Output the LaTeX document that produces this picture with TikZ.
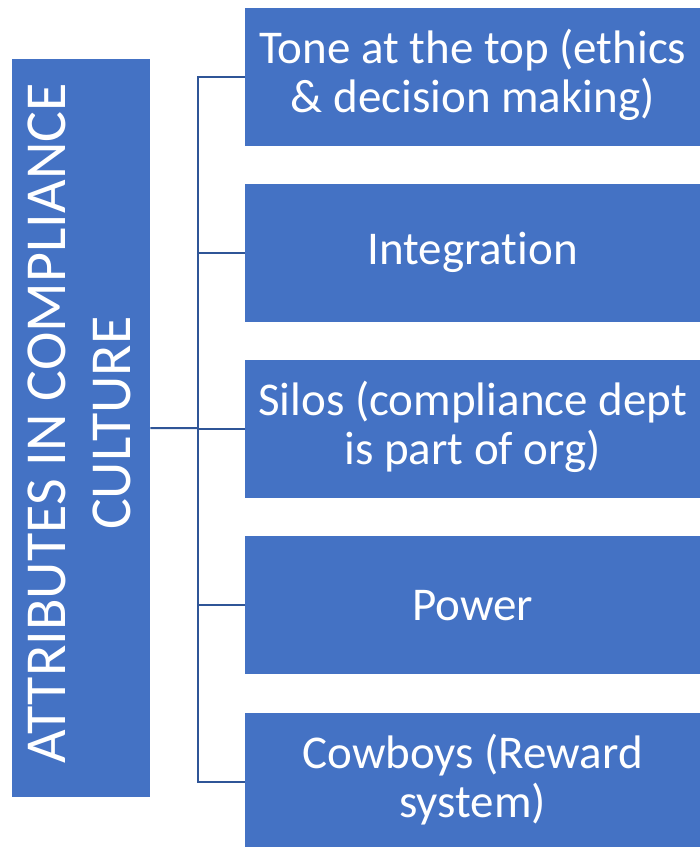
\documentclass[tikz,border=0pt]{standalone}
\usepackage{fontspec}
\setmainfont{Carlito}[Ligatures=NoCommon]
\definecolor{boxblue}{HTML}{4472C4}
\definecolor{linkblue}{HTML}{2F5597}
\begin{document}
\begin{tikzpicture}[x=1pt,y=-1pt,
  box/.style={fill=boxblue, draw=none, inner sep=0pt, anchor=north west,
    minimum width=455pt, minimum height=138pt},
  boxtext/.style={text=white, align=center,
    font=\fontsize{47}{49}\selectfont},
  conn/.style={draw=linkblue, line width=2pt}]
\clip (0,0) rectangle (700,847);
\node[fill=boxblue, draw=none, inner sep=0pt, anchor=north west,
  minimum width=138pt, minimum height=738pt] (left) at (12,59) {};
\node[rotate=90, text=white, align=center,
  font=\fontsize{58}{65}\selectfont] (lefttext) at ([xshift=-2pt,yshift=5pt]left.center)
  {ATTRIBUTES IN COMPLIANCE\\CULTURE};
\node[box] (b1) at (245,7.3) {};
\node[box] (b2) at (245,183.6) {};
\node[box] (b3) at (245,359.9) {};
\node[box] (b4) at (245,536.2) {};
\node[box] (b5) at (245,712.5) {};
\node[boxtext] (t1) at ([yshift=2pt]b1.center) {Tone at the top (ethics\\\& decision making)};
\node[boxtext] (t2) at (b2.center) {Integration};
\node[boxtext] (t3) at ([yshift=2pt]b3.center) {Silos (compliance dept\\is part of org)};
\node[boxtext] (t4) at (b4.center) {Power};
\node[boxtext] (t5) at ([yshift=2pt]b5.center) {Cowboys (Reward\\system)};
\coordinate (hub) at (197.5,428);
\draw[conn] (left.east) -- (hub);
\foreach \i in {1,...,5}{\draw[conn] (hub) |- (b\i.west);}
\end{tikzpicture}
\end{document}
